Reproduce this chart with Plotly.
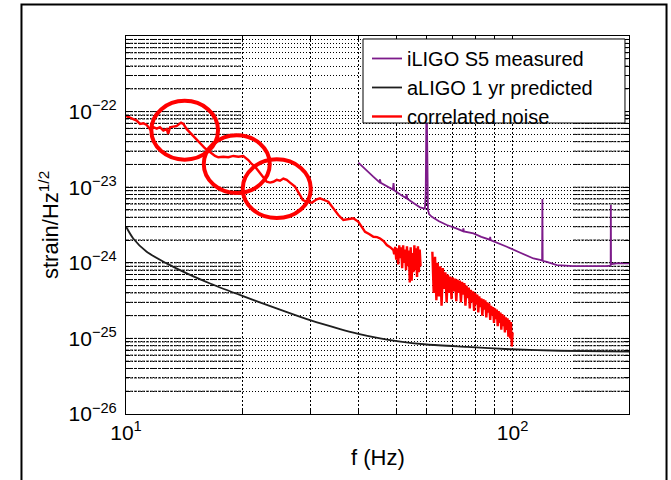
import plotly.graph_objects as go

# ---------------- data ----------------
# aLIGO 1 yr predicted sensitivity
aligo_freq = [10.0, 10.44, 11.31, 12.74, 14.36, 16.50, 20.08, 25.02, 29.93, 35.79,
              39.91, 45.42, 50.16, 59.93, 76.26, 98.52, 132.7, 200.0]
aligo_strain = [3.02e-24, 2.10e-24, 1.40e-24, 9.82e-25, 7.24e-25, 5.33e-25, 3.62e-25,
                2.40e-25, 1.74e-25, 1.33e-25, 1.15e-25, 1.0e-25, 9.2e-26, 8.3e-26,
                7.71e-26, 7.19e-26, 6.87e-26, 6.67e-26]

# iLIGO S5 measured sensitivity (with 60/120/180 Hz power-line peaks)
iligo_freq = [39.9, 41.5, 43.6, 45.2, 45.4, 45.6, 47.3, 49.0, 49.2, 49.4, 51.2, 53.0,
              53.2, 53.4, 55.4, 57.6, 59.3, 59.6, 59.9, 60.1, 60.4, 60.8, 61.8, 64.5,
              67.6, 71.5, 74.4, 74.6, 74.8, 79.2, 83.0, 87.3, 87.5, 87.7, 92.0, 96.6,
              104.0, 113.2, 117.8, 119.2, 119.4, 119.6, 122.6, 130.2, 143.6, 160.0,
              175.3, 179.3, 179.5, 179.7, 186.0, 200.0]
iligo_strain = [2.11e-23, 1.73e-23, 1.38e-23, 1.17e-23, 1.27e-23, 1.14e-23, 1.03e-23,
                9.3e-24, 1.13e-23, 9.1e-24, 8.0e-24, 7.2e-24, 8.1e-24, 7.05e-24, 6.2e-24,
                5.42e-24, 5.2e-24, 8.0e-24, 2.0e-22, 8.0e-24, 5.0e-24, 4.4e-24, 4.06e-24,
                3.55e-24, 3.16e-24, 2.85e-24, 2.62e-24, 2.85e-24, 2.6e-24, 2.45e-24,
                2.2e-24, 2.02e-24, 2.2e-24, 2.0e-24, 1.82e-24, 1.63e-24, 1.38e-24,
                1.14e-24, 1.09e-24, 1.07e-24, 6.98e-24, 1.06e-24, 1.03e-24, 9.32e-25,
                9.04e-25, 9.0e-25, 9.04e-25, 9.2e-25, 5.81e-24, 9.6e-25, 9.82e-25, 9.82e-25]

# correlated noise: 10-49 Hz
corr_freq_low = [10.0, 10.24, 10.44, 10.66, 10.87, 11.09, 11.31, 11.54, 11.77, 12.01,
                 12.24, 12.49, 12.74, 12.86, 13.0, 13.26, 13.53, 13.88, 14.07, 14.36,
                 14.64, 14.93, 15.24, 15.54, 16.01, 16.33, 16.66, 16.99, 17.33, 17.85,
                 18.39, 18.95, 19.53, 20.11, 20.72, 21.14, 21.57, 22.22, 22.66, 23.12,
                 23.58, 24.05, 24.54, 25.02, 25.52, 26.04, 26.56, 27.36, 28.19, 28.65,
                 29.34, 30.23, 31.14, 31.76, 32.53, 33.37, 34.38, 35.42, 36.49, 37.53,
                 38.73, 39.91, 40.80, 41.53, 42.54, 43.64, 44.61, 45.42, 46.38, 47.27,
                 48.21, 49.17]
corr_strain_low = [8.77e-23, 8.18e-23, 7.93e-23, 7.60e-23, 6.87e-23, 7.02e-23, 6.67e-23,
                   5.85e-23, 6.22e-23, 5.95e-23, 6.22e-23, 5.60e-23, 5.85e-23, 5.07e-23,
                   6.22e-23, 6.33e-23, 6.46e-23, 7.15e-23, 6.87e-23, 5.85e-23, 5.27e-23,
                   4.77e-23, 4.31e-23, 3.81e-23, 3.27e-23, 3.04e-23, 2.81e-23, 2.59e-23,
                   2.49e-23, 2.53e-23, 2.49e-23, 2.59e-23, 2.53e-23, 2.59e-23, 2.29e-23,
                   2.03e-23, 1.87e-23, 1.53e-23, 1.31e-23, 1.18e-23, 1.15e-23, 1.18e-23,
                   1.25e-23, 1.22e-23, 1.30e-23, 1.25e-23, 1.15e-23, 1.02e-23, 7.88e-24,
                   6.77e-24, 6.43e-24, 6.23e-24, 6.92e-24, 7.13e-24, 6.77e-24, 6.43e-24,
                   5.25e-24, 4.28e-24, 3.68e-24, 3.79e-24, 3.87e-24, 3.49e-24, 2.97e-24,
                   2.57e-24, 2.40e-24, 2.21e-24, 2.19e-24, 2.10e-24, 1.94e-24, 1.72e-24,
                   1.61e-24, 1.47e-24]

# correlated noise: band below 60 Hz
corr_freq_band1 = [49.4, 49.7, 50.0, 50.3, 50.6, 50.9, 51.2, 51.5, 51.8, 52.1, 52.4, 52.7,
                   53.0, 53.3, 53.6, 53.9, 54.2, 54.5, 54.8, 55.1, 55.4, 55.7, 56.0, 56.3,
                   56.6, 56.9, 57.2, 57.5, 57.8]
corr_strain_band1 = [1.30e-24, 1.62e-24, 1.10e-24, 1.55e-24, 9.5e-25, 1.70e-24, 1.15e-24,
                     1.60e-24, 8.5e-25, 1.70e-24, 1.0e-24, 1.50e-24, 8.0e-25, 1.65e-24,
                     9.0e-25, 1.45e-24, 5.5e-25, 1.60e-24, 5.8e-25, 1.35e-24, 7.5e-25,
                     1.70e-24, 8.0e-25, 1.55e-24, 6.5e-25, 1.65e-24, 7.5e-25, 1.50e-24,
                     9.0e-25]

# correlated noise: band above 60 Hz
corr_freq_band2 = [62.0, 62.5, 63.0, 63.5, 64.0, 64.5, 65.0, 65.5, 66.0, 66.5, 67.0, 67.5,
                   68.0, 68.5, 69.0, 69.5, 70.0, 70.5, 71.0, 71.5, 72.0, 72.5, 73.0, 73.5,
                   74.0, 74.5, 75.0, 75.5, 76.0, 76.5, 77.0, 77.5, 78.0, 78.5, 79.0, 79.5,
                   80.0, 80.5, 81.0, 81.5, 82.0, 82.5, 83.0, 83.5, 84.0, 84.5, 85.0, 85.5,
                   86.0, 86.5, 87.0, 87.5, 88.0, 88.5, 89.0, 89.5, 90.0, 90.5, 91.0, 91.5,
                   92.0, 92.5, 93.0, 93.5, 94.0, 94.5, 95.0, 95.5, 96.0, 96.5, 97.0, 97.5,
                   98.0, 98.5, 99.0, 99.5, 100.0]
corr_strain_band2 = [1.4e-24, 4.0e-25, 1.2e-24, 3.2e-25, 1.0e-24, 3.6e-25, 9.0e-25, 2.7e-25,
                     8.5e-25, 4.5e-25, 7.5e-25, 3.0e-25, 7.0e-25, 4.0e-25, 6.6e-25, 3.3e-25,
                     6.4e-25, 4.2e-25, 6.2e-25, 3.1e-25, 6.0e-25, 4.0e-25, 5.8e-25, 3.0e-25,
                     5.6e-25, 3.8e-25, 5.4e-25, 2.7e-25, 5.0e-25, 3.4e-25, 4.7e-25, 2.5e-25,
                     4.4e-25, 3.0e-25, 4.2e-25, 2.3e-25, 4.0e-25, 2.8e-25, 3.8e-25, 2.2e-25,
                     3.6e-25, 2.6e-25, 3.4e-25, 2.0e-25, 3.3e-25, 2.4e-25, 3.2e-25, 1.9e-25,
                     3.0e-25, 2.2e-25, 2.9e-25, 1.75e-25, 2.7e-25, 2.0e-25, 2.6e-25, 1.6e-25,
                     2.5e-25, 1.8e-25, 2.4e-25, 1.45e-25, 2.3e-25, 1.6e-25, 2.2e-25, 1.3e-25,
                     2.1e-25, 1.45e-25, 2.0e-25, 1.2e-25, 1.9e-25, 1.3e-25, 1.85e-25, 1.05e-25,
                     1.75e-25, 1.0e-25, 1.65e-25, 7.8e-26, 1.2e-25]

series_names = ["iLIGO S5 measured", "aLIGO 1 yr predicted", "correlated noise"]
series_colors = ["#7d1b8a", "#1e1e1e", "#ff0000"]

# highlighted features of the correlated noise (frequency span, strain span)
highlight_freq = [(11.63, 17.30), (15.89, 23.54), (20.04, 30.06)]
highlight_strain = [(2.31e-23, 1.39e-22), (8.38e-24, 4.87e-23), (3.91e-24, 2.34e-23)]

# axes
y_decades = [-26, -25, -24, -23, -22, -21]
x_tickvals = [10, 100]
x_ticktext = ["10<sup>1</sup>", "10<sup>2</sup>"]
y_tickvals = [1e-26, 1e-25, 1e-24, 1e-23, 1e-22]
y_ticktext = ["10<sup>\u221226</sup>", "10<sup>\u221225</sup>", "10<sup>\u221224</sup>",
              "10<sup>\u221223</sup>", "10<sup>\u221222</sup>"]
x_minor = [20, 30, 40, 50, 60, 70, 80, 90, 200]
y_minor = [m * 10.0 ** n for n in y_decades[:-1] for m in range(2, 10)]

FONT = "Liberation Sans, Arial, Helvetica, sans-serif"

# ---------------- figure ----------------
fig = go.Figure()

fig.add_trace(go.Scatter(x=iligo_freq, y=iligo_strain, mode="lines",
                         name=series_names[0],
                         line=dict(color=series_colors[0], width=1.8)))
fig.add_trace(go.Scatter(x=aligo_freq, y=aligo_strain, mode="lines",
                         name=series_names[1],
                         line=dict(color=series_colors[1], width=1.8, shape="spline",
                                   smoothing=0.8)))
corr_freq = corr_freq_low + corr_freq_band1 + [None] + corr_freq_band2
corr_strain = corr_strain_low + corr_strain_band1 + [None] + corr_strain_band2
fig.add_trace(go.Scatter(x=corr_freq, y=corr_strain, mode="lines",
                         name=series_names[2], connectgaps=False,
                         line=dict(color=series_colors[2], width=2.4)))

grid_style = dict(showgrid=True, gridcolor="#000000", gridwidth=1)

fig.update_xaxes(
    type="log", range=[1, 2.30103],
    tickmode="array", tickvals=x_tickvals, ticktext=x_ticktext,
    ticks="inside", ticklen=6, tickcolor="black", tickwidth=1,
    showline=True, linecolor="black", linewidth=1, mirror="allticks",
    griddash="2px,2px", zeroline=False,
    tickfont=dict(family=FONT, size=21, color="black"),
    minor=dict(tickmode="array", tickvals=x_minor, ticks="inside", ticklen=4,
               tickcolor="black", showgrid=True, gridcolor="#000000",
               griddash="2px,2px", gridwidth=1),
    **grid_style,
)
fig.update_yaxes(
    type="log", range=[-26, -21],
    tickmode="array", tickvals=y_tickvals, ticktext=y_ticktext,
    ticks="inside", ticklen=6, tickcolor="black", tickwidth=1,
    showline=True, linecolor="black", linewidth=1, mirror="allticks",
    griddash="1px,2px", zeroline=False, ticklabelstandoff=4,
    tickfont=dict(family=FONT, size=21, color="black"),
    minor=dict(tickmode="array", tickvals=y_minor, ticks="inside", ticklen=4,
               tickcolor="black", showgrid=True, gridcolor="#000000",
               griddash="1px,2px", gridwidth=1),
    **grid_style,
)

shapes = []
# denser dash segments on the horizontal grid near both ends of the frequency axis
for yv in y_minor + y_tickvals[1:]:
    for f0, f1 in [(10, 20), (143.5, 200)]:
        shapes.append(dict(type="line", xref="x", yref="y", x0=f0, x1=f1, y0=yv, y1=yv,
                           line=dict(color="black", width=1, dash="3px,1px"),
                           layer="between"))
# circled features
for (f0, f1), (s0, s1) in zip(highlight_freq, highlight_strain):
    shapes.append(dict(type="circle", xref="x", yref="y", x0=f0, x1=f1, y0=s0, y1=s1,
                       line=dict(color="#ff0000", width=4), layer="above"))
# legend box
shapes.append(dict(type="rect", xref="paper", yref="paper",
                   x0=0.4712, x1=0.9920, y0=0.7698, y1=0.9921,
                   line=dict(color="black", width=1), fillcolor="white", layer="above"))
# outer frame
shapes.append(dict(type="rect", xref="paper", yref="paper",
                   x0=-0.2078, x1=1.0746, y0=-0.2143, y1=1.0833,
                   line=dict(color="black", width=2), fillcolor="rgba(0,0,0,0)",
                   layer="above"))

fig.update_layout(
    width=671, height=480,
    margin=dict(l=126, r=42, t=36, b=66),
    paper_bgcolor="white", plot_bgcolor="white",
    font=dict(family=FONT, size=21, color="black"),
    shapes=shapes,
    showlegend=True,
    legend=dict(x=0.4791, y=0.9921, xanchor="left", yanchor="top",
                bgcolor="rgba(0,0,0,0)", borderwidth=0,
                font=dict(family=FONT, size=20, color="black"),
                tracegroupgap=0),
    annotations=[
        dict(text="f (Hz)", xref="paper", yref="paper", x=0.5, y=-0.1164,
             xanchor="center", yanchor="middle", showarrow=False,
             font=dict(family=FONT, size=22, color="black")),
        dict(text="strain/Hz<sup>1/2</sup>", xref="paper", yref="paper",
             x=-0.1531, y=0.5, textangle=-90, xanchor="center", yanchor="middle",
             showarrow=False, font=dict(family=FONT, size=22, color="black")),
    ],
)

fig.write_html("out.html")
